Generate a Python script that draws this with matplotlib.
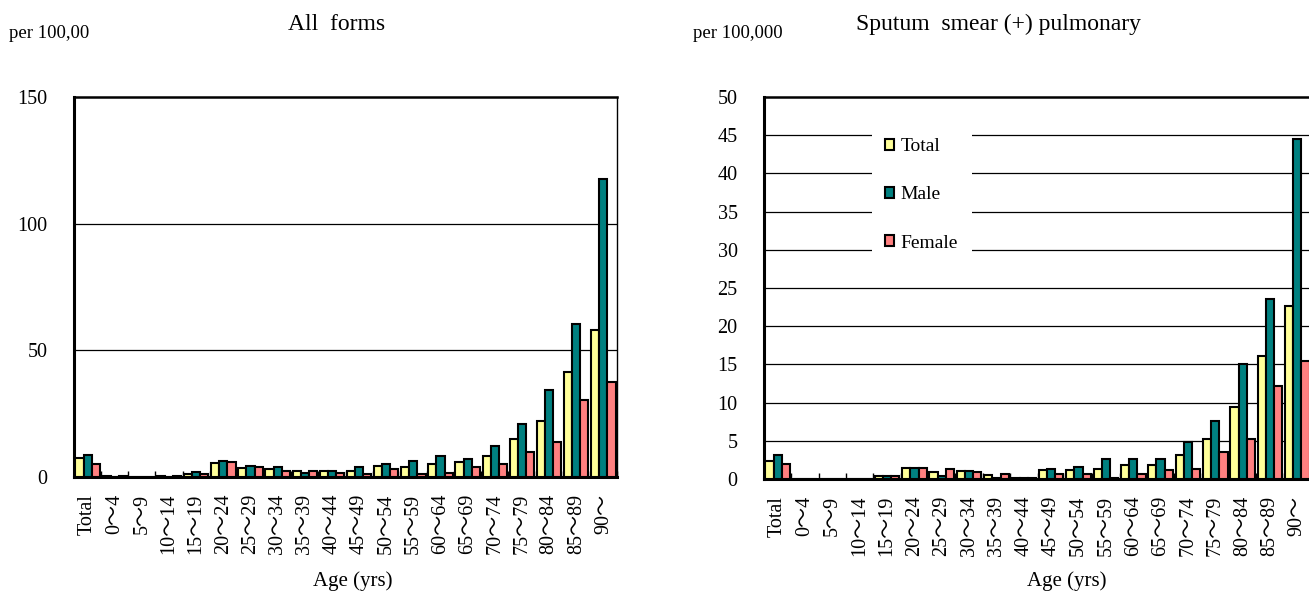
import numpy as np
import matplotlib
matplotlib.use("Agg")
import matplotlib.pyplot as plt

plt.rcParams['font.family'] = ['Liberation Serif', 'Noto Sans CJK JP']

# age groups
ages = ["Total", "0～4", "5～9", "10～14", "15～19", "20～24", "25～29", "30～34",
        "35～39", "40～44", "45～49", "50～54", "55～59", "60～64", "65～69",
        "70～74", "75～79", "80～84", "85～89", "90～"]

# All forms, per 100,000
all_total = [7.5, 0.4, 0.0, 0.4, 1.1, 5.7, 3.7, 3.2, 2.5, 2.5, 2.2, 4.5, 3.8, 5.0, 5.8, 8.4, 15.0, 22.2, 41.5, 58.0]
all_male = [8.5, 0.1, 0.0, 0.1, 2.0, 6.5, 4.5, 3.8, 1.6, 2.5, 3.8, 5.1, 6.5, 8.4, 7.2, 12.4, 20.9, 34.3, 60.5, 117.6]
all_female = [5.2, 0.3, 0.0, 0.4, 1.1, 5.9, 4.0, 2.5, 2.5, 1.6, 1.1, 3.2, 1.1, 1.7, 4.0, 5.0, 9.7, 13.8, 30.4, 37.5]

# Sputum smear (+) pulmonary, per 100,000
sp_total = [2.3, 0.0, 0.0, 0.0, 0.4, 1.5, 0.9, 1.1, 0.5, 0.1, 1.2, 1.2, 1.3, 1.8, 1.8, 3.1, 5.2, 9.4, 16.1, 22.7]
sp_male = [3.1, 0.0, 0.0, 0.0, 0.4, 1.5, 0.4, 1.1, 0.15, 0.1, 1.3, 1.6, 2.6, 2.6, 2.6, 4.8, 7.6, 15.0, 23.6, 44.5]
sp_female = [2.0, 0.0, 0.0, 0.0, 0.4, 1.5, 1.3, 0.9, 0.65, 0.1, 0.7, 0.6, 0.1, 0.6, 1.2, 1.3, 3.5, 5.2, 12.2, 15.4]

series_names = ["Total", "Male", "Female"]
colors = ["#FFFF99", "#008080", "#FF8080"]

W, H = 1309, 594
fig = plt.figure(figsize=(W / 100, H / 100), dpi=100)


def make_axes(rect, data, ymax, step, right_spine):
    ax = fig.add_axes(rect)
    x = np.arange(len(ages))
    w = 0.3
    for i, (vals, c, name) in enumerate(zip(data, colors, series_names)):
        ax.bar(x + (i - 1) * w, vals, width=w, color=c, edgecolor="black",
               linewidth=1.5, label=name, zorder=3)
    ax.set_xlim(-0.5, len(ages) - 0.5)
    ax.set_ylim(0, ymax)
    ax.set_yticks(np.arange(0, ymax + 1, step))
    for g in np.arange(step, ymax, step):
        ax.axhline(g, color="black", linewidth=0.9, zorder=1)
    # boundary ticks (marks only) and centre labels
    ax.set_xticks(np.arange(-0.5, len(ages), 1))
    ax.set_xticklabels([])
    ax.tick_params(axis="x", which="major", direction="in", length=4, width=1)
    ax.set_xticks(x, minor=True)
    ax.set_xticklabels(ages, minor=True, rotation=90, fontsize=14.5)
    ax.tick_params(axis="x", which="minor", length=0, pad=12)
    ax.tick_params(axis="y", length=0, pad=19, labelsize=14.5)
    for s in ["left", "bottom"]:
        ax.spines[s].set_linewidth(2.2)
    ax.spines["top"].set_linewidth(1.8)
    ax.spines["right"].set_linewidth(1.0)
    ax.spines["right"].set_visible(right_spine)
    return ax


ax1 = make_axes([74 / W, 1 - 477 / H, 543 / W, 380 / H],
                [all_total, all_male, all_female], 150, 50, True)
ax2 = make_axes([764 / W, 1 - 479 / H, 547 / W, 382 / H],
                [sp_total, sp_male, sp_female], 50, 5, False)

leg = ax2.legend(loc="upper left", bbox_to_anchor=(862 / W, 1 - 115 / H),
                 bbox_transform=fig.transFigure, fontsize=14,
                 handlelength=0.45, handleheight=0.45, handletextpad=0.35,
                 labelspacing=1.6, borderpad=0.7, frameon=True,
                 fancybox=False, edgecolor="none", facecolor="white",
                 framealpha=1.0)
leg.set_zorder(5)

fig.text(9 / W, 1 - 33 / H, "per 100,00", fontsize=13.5, ha="left", va="center")
fig.text(337 / W, 1 - 24 / H, "All  forms", fontsize=17, ha="center", va="center")
fig.text(783 / W, 1 - 33 / H, "per 100,000", fontsize=13.5, ha="right", va="center")
fig.text(998 / W, 1 - 24 / H, "Sputum  smear (+) pulmonary", fontsize=17,
         ha="center", va="center")
fig.text(353 / W, 1 - 581 / H, "Age (yrs)", fontsize=15, ha="center", va="center")
fig.text(1067 / W, 1 - 581 / H, "Age (yrs)", fontsize=15, ha="center", va="center")

fig.savefig("out.png", dpi=100)
